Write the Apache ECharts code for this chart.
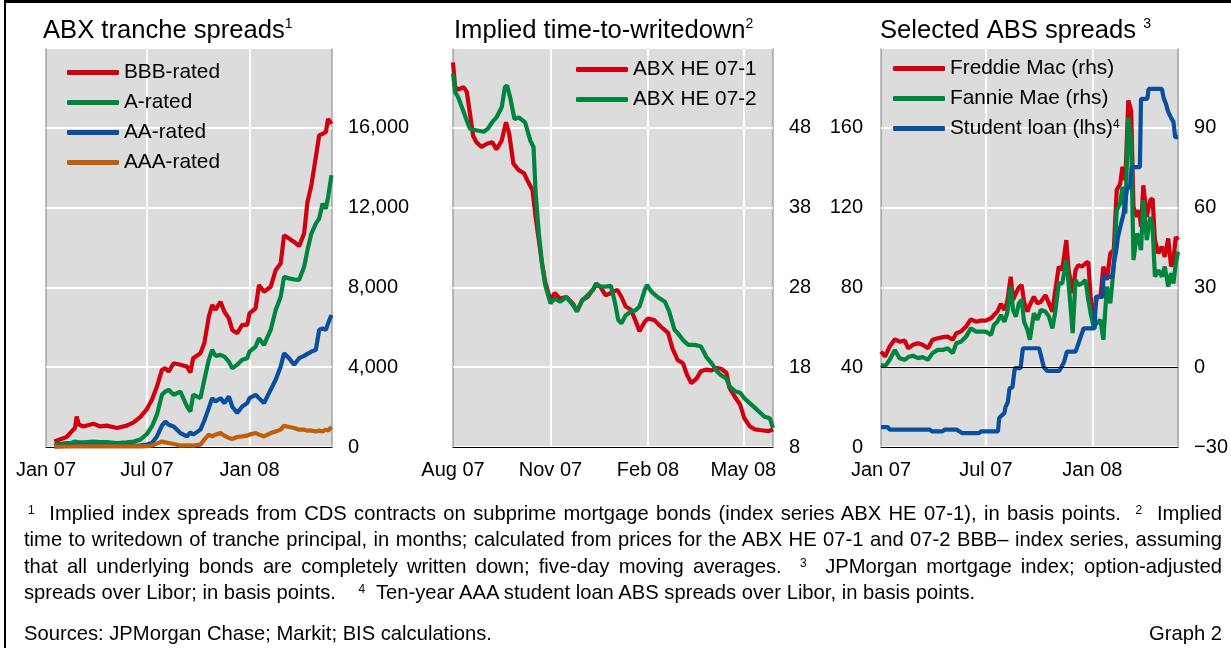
<!DOCTYPE html>
<html>
<head>
<meta charset="utf-8">
<script src="https://cdn.jsdelivr.net/npm/echarts@6/dist/echarts.min.js"></script>
<style>
  html, body { margin: 0; padding: 0; background: #fff; }
  #wrap { position: relative; width: 1231px; height: 648px; overflow: hidden; }
  #chart { position: absolute; left: 0; top: 0; width: 1231px; height: 648px; }
  #frame { position: absolute; left: 4px; top: 0; width: 1400px; height: 800px;
           border-top: 3px solid #000; border-left: 2px solid #000; }
  .txt { position: absolute; left: 24px; width: 1198px; color: #000;
         font-family: 'Liberation Sans', Arial, Helvetica, sans-serif; font-size: 20.2px; }
  #notes { top: 500px; line-height: 26.3px; }
  #notes .j { text-align: justify; text-align-last: justify; white-space: nowrap; }
  #notes sup { font-size: 12px; vertical-align: 6px; line-height: 0; }
  #src { top: 620px; line-height: 26px; }
</style>
</head>
<body>
<div id="wrap">
  <div id="chart"></div>
  <div id="frame"></div>
  <div id="notes" class="txt">
    <div class="j" style="padding-left:4px"><sup>1</sup>&nbsp; Implied index spreads from CDS contracts on subprime mortgage bonds (index series ABX HE 07-1), in basis points. &nbsp;<sup>2</sup>&nbsp; Implied</div>
    <div class="j">time to writedown of tranche principal, in months; calculated from prices for the ABX HE 07-1 and 07-2 BBB– index series, assuming</div>
    <div class="j">that all underlying bonds are completely written down; five-day moving averages. &nbsp;<sup>3</sup>&nbsp; JPMorgan mortgage index; option-adjusted</div>
    <div>spreads over Libor; in basis points. &nbsp;&nbsp;&nbsp;<sup>4</sup>&nbsp; Ten-year AAA student loan ABS spreads over Libor, in basis points.</div>
  </div>
  <div id="src" class="txt">Sources: JPMorgan Chase; Markit; BIS calculations.<span style="float:right">Graph 2</span></div>
</div>

<script>
// ---- panel 1: ABX tranche spreads (basis points)
const abxDates = ['2007-01-16','2007-02-07','2007-02-16','2007-02-22','2007-02-25','2007-03-01','2007-03-09','2007-03-27','2007-04-08','2007-04-20',
  '2007-05-08','2007-05-26','2007-06-07','2007-06-19','2007-07-01','2007-07-10','2007-07-19','2007-07-28','2007-08-03','2007-08-09',
  '2007-08-18','2007-08-30','2007-09-11','2007-09-17','2007-09-22','2007-10-05','2007-10-12','2007-10-20','2007-10-26','2007-11-01',
  '2007-11-10','2007-11-17','2007-11-25','2007-12-01','2007-12-10','2007-12-19','2007-12-28','2008-01-01','2008-01-12','2008-01-18',
  '2008-01-27','2008-02-08','2008-02-17','2008-02-26','2008-03-03','2008-03-12','2008-03-21','2008-03-30','2008-04-08','2008-04-14',
  '2008-04-21','2008-04-29','2008-05-05','2008-05-11','2008-05-17','2008-05-21','2008-05-27'];
const bbbRated = [280, 500, 780, 950, 1530, 1120, 1030, 1170, 1030, 1070, 950, 1070, 1230, 1500, 1900, 2370, 3030, 3870, 3950, 3780,
  4200, 4120, 4030, 3730, 4450, 4700, 5200, 6530, 7120, 6870, 7280, 6780, 6450, 5870, 5700, 6120, 6120, 6700, 6950, 8120,
  7780, 8030, 8870, 9200, 10620, 10450, 10280, 10070, 10700, 12280, 13120, 14530, 15620, 15700, 15780, 16450, 16200];
const aRated = [120, 200, 200, 280, 330, 230, 230, 270, 250, 250, 200, 230, 270, 370, 650, 1030, 1620, 2620, 2780, 2870,
  2620, 2780, 2030, 1780, 2620, 2450, 3370, 4370, 4870, 4570, 4620, 4530, 4280, 3950, 4120, 4370, 4450, 4780, 5030, 5450,
  5120, 5870, 6870, 7530, 8530, 8450, 8400, 8370, 9030, 9870, 10700, 11200, 11450, 12200, 11950, 12530, 13620];
const aaRated = [30, 60, 60, 70, 80, 70, 70, 70, 70, 65, 60, 60, 70, 80, 120, 200, 530, 1070, 1280, 1120,
  1030, 700, 530, 730, 620, 870, 1330, 1950, 2450, 2280, 2450, 2200, 2530, 2030, 1700, 2030, 2200, 2450, 2620, 2450,
  2200, 2870, 3370, 4030, 4700, 4450, 4120, 4450, 4570, 4670, 4780, 4870, 5870, 5950, 5870, 6200, 6620];
const aaaRated = [20, 25, 25, 30, 30, 30, 30, 30, 30, 30, 30, 30, 30, 33, 40, 80, 170, 280, 230, 200,
  150, 70, 80, 80, 70, 120, 370, 620, 530, 620, 700, 570, 450, 400, 500, 530, 570, 620, 700, 620,
  530, 700, 780, 870, 1070, 1000, 950, 870, 870, 820, 830, 780, 820, 780, 870, 830, 1000];

// ---- panel 2: implied time-to-writedown (months)
const he071Dates = ['2007-08-01','2007-08-03','2007-08-06','2007-08-11','2007-08-14','2007-08-17','2007-08-20','2007-08-23','2007-08-28',
  '2007-09-02','2007-09-07','2007-09-11','2007-09-16','2007-09-20','2007-09-23','2007-09-27',
  '2007-10-02','2007-10-07','2007-10-11','2007-10-15','2007-10-18','2007-10-21','2007-10-24','2007-10-27',
  '2007-11-01','2007-11-05','2007-11-10','2007-11-16','2007-11-22','2007-11-26',
  '2007-12-01','2007-12-06','2007-12-11','2007-12-14','2007-12-18','2007-12-23','2007-12-28',
  '2008-01-03','2008-01-07','2008-01-11','2008-01-16','2008-01-20','2008-01-24','2008-01-29',
  '2008-02-01','2008-02-07','2008-02-13','2008-02-20','2008-02-24','2008-02-29',
  '2008-03-05','2008-03-09','2008-03-13','2008-03-18','2008-03-22','2008-03-27',
  '2008-04-01','2008-04-06','2008-04-10','2008-04-15','2008-04-18','2008-04-23','2008-04-28',
  '2008-05-02','2008-05-07','2008-05-12','2008-05-18','2008-05-25','2008-05-29'];
const he071 = [56.2, 53.1, 52.8, 53.1, 52.5, 49.8, 47.0, 46.2, 45.6,
  46.0, 46.2, 45.3, 46.4, 48.7, 47.3, 43.5,
  42.7, 42.3, 41.2, 40.2, 36.8, 33.9, 31.0, 28.7,
  26.4, 27.3, 26.6, 26.8, 26.0, 25.0,
  26.4, 26.8, 27.7, 28.3, 28.1, 27.0, 27.3,
  27.7, 26.8, 25.6, 25.2, 23.9, 22.5, 23.7,
  24.1, 23.9, 23.1, 22.3, 20.4, 18.9,
  18.5, 17.0, 16.0, 16.6, 17.5, 17.7,
  17.6, 17.9, 17.8, 17.3, 15.4, 14.3, 13.3,
  11.6, 10.6, 10.2, 10.1, 10.0, 10.2];
const he072Dates = ['2007-08-01','2007-08-03','2007-08-06','2007-08-11','2007-08-14','2007-08-17','2007-08-23','2007-08-30',
  '2007-09-03','2007-09-07','2007-09-11','2007-09-16','2007-09-19','2007-09-21','2007-09-24','2007-09-28',
  '2007-10-02','2007-10-08','2007-10-13','2007-10-16','2007-10-18','2007-10-21','2007-10-24','2007-10-27',
  '2007-11-01','2007-11-05','2007-11-10','2007-11-16','2007-11-22','2007-11-26',
  '2007-12-01','2007-12-06','2007-12-11','2007-12-14','2007-12-18','2007-12-23','2007-12-28',
  '2008-01-01','2008-01-04','2008-01-07','2008-01-11','2008-01-16','2008-01-20','2008-01-24','2008-01-29','2008-01-31',
  '2008-02-04','2008-02-10','2008-02-17','2008-02-21','2008-02-26','2008-02-29',
  '2008-03-05','2008-03-10','2008-03-16','2008-03-22','2008-03-27',
  '2008-04-01','2008-04-06','2008-04-10','2008-04-15','2008-04-18','2008-04-23','2008-04-28',
  '2008-05-02','2008-05-07','2008-05-12','2008-05-17','2008-05-21','2008-05-26','2008-05-29'];
const he072 = [54.8, 52.5, 51.8, 50.0, 48.9, 47.9, 47.7, 47.5,
  47.9, 48.7, 49.3, 50.6, 53.1, 53.3, 51.8, 49.1,
  49.3, 48.7, 46.4, 45.6, 39.8, 34.8, 31.0, 28.3,
  26.0, 26.6, 26.2, 26.8, 25.8, 25.0,
  26.4, 27.0, 27.7, 28.5, 28.1, 28.1, 28.2,
  26.0, 23.9, 23.5, 24.5, 25.0, 25.1, 25.6, 27.7, 28.3,
  27.5, 26.8, 26.2, 25.0, 22.7, 22.3,
  21.4, 20.8, 20.8, 20.6, 19.3,
  18.5, 17.5, 17.0, 16.6, 15.6, 15.0, 14.8,
  14.1, 13.5, 12.9, 12.3, 11.8, 11.6, 10.4];

// ---- panel 3: selected ABS spreads (basis points)
const agencyDates = ['2007-01-01','2007-01-08','2007-01-16','2007-01-25','2007-02-02','2007-02-11','2007-02-17','2007-02-25',
  '2007-03-06','2007-03-14','2007-03-23','2007-03-31','2007-04-09','2007-04-18','2007-04-26',
  '2007-05-05','2007-05-11','2007-05-19','2007-05-28','2007-06-05','2007-06-14','2007-06-23',
  '2007-07-01','2007-07-10','2007-07-15','2007-07-21','2007-07-27',
  '2007-08-02','2007-08-07','2007-08-13','2007-08-17','2007-08-22','2007-08-27',
  '2007-09-01','2007-09-05','2007-09-11','2007-09-15','2007-09-22','2007-09-28',
  '2007-10-04','2007-10-12','2007-10-18','2007-10-24','2007-10-29',
  '2007-11-04','2007-11-10','2007-11-17','2007-11-21','2007-11-28',
  '2007-12-03','2007-12-08','2007-12-14','2007-12-20','2007-12-25','2007-12-29',
  '2008-01-03','2008-01-09','2008-01-15','2008-01-20','2008-01-26',
  '2008-02-01','2008-02-07','2008-02-12','2008-02-18','2008-02-22','2008-02-27',
  '2008-03-03','2008-03-08','2008-03-12','2008-03-18','2008-03-22','2008-03-25','2008-03-29',
  '2008-04-04','2008-04-10','2008-04-14','2008-04-18','2008-04-24','2008-04-30',
  '2008-05-05','2008-05-11','2008-05-16','2008-05-20','2008-05-24','2008-05-28'];
const freddieMac = [5.9, 4.0, 7.8, 10.5, 9.6, 10.0, 7.1, 8.4, 9.0, 8.4,
  7.1, 10.3, 10.9, 11.3, 11.5, 10.3, 12.8, 13.4, 15.3, 18.0,
  17.1, 17.5, 17.5, 18.4, 19.6, 20.9, 23.8, 21.5, 24.6, 34.0,
  25.3, 27.8, 30.0, 30.9, 24.6, 20.9, 23.4, 26.5, 24.0, 24.6,
  27.1, 24.0, 20.9, 29.0, 37.8, 36.5, 47.8, 36.5, 27.8, 36.5,
  38.4, 37.8, 39.0, 39.6, 26.5, 17.8, 26.5, 26.5, 37.8, 32.8,
  42.8, 44.0, 66.5, 69.0, 75.3, 70.3, 100.3, 96.5, 60.3, 56.5,
  59.0, 52.8, 68.4, 56.5, 62.8, 63.4, 47.8, 42.8, 45.3, 41.5,
  48.4, 37.8, 40.3, 49.0, 47.8];
const fannieMae = [0.9, 0.3, 2.8, 6.5, 3.4, 2.8, 3.8, 4.3, 3.4, 3.8,
  2.8, 5.3, 6.5, 6.5, 7.1, 5.3, 9.0, 9.6, 11.5, 14.6,
  13.4, 13.4, 13.4, 12.1, 15.9, 17.1, 19.6, 17.1, 20.3, 30.3,
  21.5, 19.0, 24.0, 25.3, 17.1, 14.0, 10.3, 20.3, 17.8, 21.5,
  20.9, 19.0, 14.6, 20.9, 31.5, 31.5, 40.3, 31.5, 12.8, 32.8,
  30.9, 31.5, 32.8, 25.3, 20.3, 15.3, 16.5, 17.8, 10.3, 30.3,
  24.0, 37.8, 59.0, 61.5, 67.8, 57.8, 94.0, 85.3, 40.3, 50.3,
  47.8, 44.0, 62.8, 47.8, 56.5, 52.8, 34.0, 36.5, 34.0, 37.8,
  30.3, 35.3, 31.5, 39.0, 43.4];
const studentDates = ['2007-01-01','2007-01-13','2007-01-16','2007-03-26','2007-03-30','2007-04-17','2007-04-21','2007-05-12','2007-05-21',
  '2007-06-19','2007-06-23','2007-07-22','2007-07-24','2007-08-02','2007-08-04','2007-08-08','2007-08-11','2007-08-16','2007-08-20','2007-08-30',
  '2007-09-03','2007-10-01','2007-10-05','2007-10-09','2007-10-15','2007-11-05','2007-11-13','2007-11-18',
  '2007-12-03','2007-12-06','2007-12-11','2007-12-17','2008-01-05','2008-01-07','2008-01-19','2008-01-20',
  '2008-02-04','2008-02-07','2008-02-11','2008-02-14','2008-02-18','2008-02-24','2008-03-01','2008-03-06','2008-03-09','2008-03-23','2008-03-25',
  '2008-04-05','2008-04-07','2008-04-30','2008-05-03','2008-05-07','2008-05-11','2008-05-16','2008-05-20','2008-05-23','2008-05-28'];
const studentLoan = [10, 10, 8.7, 8.7, 7.8, 7.8, 8.7, 8.7, 7,
  7, 7.8, 7.8, 14.5, 17, 20, 22.5, 29.5, 30, 39.5, 39.5,
  49.5, 49.5, 45, 40, 38.2, 38.2, 42.5, 47.8,
  47.8, 50.3, 54.5, 59.5, 59.5, 75.3, 75.3, 85.3,
  85.3, 92, 98, 105, 110, 117, 130, 130, 140.3, 140.3, 174.5,
  174.5, 179.5, 179.5, 175, 172, 168, 165, 163, 155.3, 155.3];

// ---- axis ticks
const fullTicks = ['2007-01-01', '2007-07-01', '2008-01-01'];
const fullTickLabels = ['Jan 07', 'Jul 07', 'Jan 08'];
const wdTicks = ['2007-08-01', '2007-11-01', '2008-02-01', '2008-05-01'];
const wdTickLabels = ['Aug 07', 'Nov 07', 'Feb 08', 'May 08'];

const FONT = "'Liberation Sans', Arial, Helvetica, sans-serif";
const RED = '#d2000f', GREEN = '#00853e', BLUE = '#0a4f9e', ORANGE = '#be5f0e';

// every calendar day of an axis, so that dates sit at their true positions
function dayRange(start, end) {
  var out = [];
  var d = new Date(start + 'T00:00:00Z');
  var e = new Date(end + 'T00:00:00Z');
  while (d <= e) {
    out.push(d.toISOString().slice(0, 10));
    d.setUTCDate(d.getUTCDate() + 1);
  }
  return out;
}

function pairs(dates, vals) {
  return dates.map(function (d, i) { return [d, vals[i]]; });
}

function dateAxis(gridIndex, start, end, ticks, labels) {
  return {
    type: 'category',
    gridIndex: gridIndex,
    data: dayRange(start, end),
    boundaryGap: false,
    axisLine: { show: true, onZero: false, lineStyle: { color: '#000', width: 1 } },
    axisTick: { show: false },
    axisLabel: {
      interval: function (i, v) { return ticks.indexOf(v) >= 0; },
      formatter: function (v) { return labels[ticks.indexOf(v)]; },
      fontSize: 20, color: '#000', fontFamily: FONT, margin: 13
    },
    splitLine: {
      show: true,
      interval: function (i, v) { return i > 0 && ticks.indexOf(v) >= 0; },
      lineStyle: { color: '#fff', width: 2 }
    }
  };
}

function valueAxis(gridIndex, position, min, max, step, fmt, grid) {
  return {
    type: 'value',
    gridIndex: gridIndex,
    position: position,
    min: min, max: max, interval: step,
    axisLine: { show: false },
    axisTick: { show: false },
    axisLabel: {
      showMaxLabel: false,
      fontSize: 20, color: '#000', fontFamily: FONT,
      margin: position === 'left' ? 18 : 16,
      formatter: fmt
    },
    splitLine: { show: grid, lineStyle: { color: '#fff', width: 2 } }
  };
}

function lineSeries(name, x, y, data, color) {
  return {
    name: name, type: 'line', xAxisIndex: x, yAxisIndex: y,
    data: data, showSymbol: false, symbol: 'none',
    lineStyle: { color: color, width: 4.2 },
    itemStyle: { color: color },
    animation: false
  };
}

function legend(left, top, names) {
  return {
    orient: 'vertical', left: left, top: top, padding: 0,
    itemWidth: 52, itemHeight: 5, itemGap: 9, icon: 'roundRect',
    selectedMode: false,
    data: names,
    textStyle: {
      fontSize: 20.8, lineHeight: 20, color: '#000', fontFamily: FONT,
      rich: { sup: { fontSize: 12, lineHeight: 12, verticalAlign: 'top', color: '#000', fontFamily: FONT } }
    },
    formatter: function (n) { return n === 'Student loan (lhs)' ? n + '{sup|4}' : n; }
  };
}

function title(text, left) {
  return {
    text: text, left: left, top: 17, padding: 0,
    textStyle: {
      fontSize: 25.6, lineHeight: 28, fontWeight: 'normal', color: '#000', fontFamily: FONT,
      rich: { sup: { fontSize: 14, lineHeight: 14, verticalAlign: 'top', color: '#000', fontFamily: FONT } }
    }
  };
}

var thousands = function (v) { return v.toLocaleString('en-US'); };
var signed = function (v) { return v < 0 ? '\u2212' + Math.abs(v) : String(v); };

var chart = echarts.init(document.getElementById('chart'));
var gridStyle = { show: true, backgroundColor: '#dcdcdc', borderColor: '#7f7f7f', borderWidth: 1 };

var option = {
  animation: false,
  title: [
    title('ABX tranche spreads{sup|1}', 43),
    title('Implied time-to-writedown{sup|2}', 454),
    title('Selected ABS spreads {sup|3}', 880)
  ],
  legend: [
    legend(67, 62, ['BBB-rated', 'A-rated', 'AA-rated', 'AAA-rated']),
    legend(576, 59, ['ABX HE 07-1', 'ABX HE 07-2']),
    legend(893, 58, ['Freddie Mac (rhs)', 'Fannie Mae (rhs)', 'Student loan (lhs)'])
  ],
  grid: [
    Object.assign({ left: 46, top: 48, width: 286, height: 399 }, gridStyle),
    Object.assign({ left: 453, top: 48, width: 320, height: 399 }, gridStyle),
    Object.assign({ left: 881, top: 48, width: 299, height: 399 }, gridStyle)
  ],
  xAxis: [
    dateAxis(0, '2007-01-01', '2008-05-28', fullTicks, fullTickLabels),
    dateAxis(1, '2007-08-01', '2008-05-29', wdTicks, wdTickLabels),
    dateAxis(2, '2007-01-01', '2008-05-28', fullTicks, fullTickLabels)
  ],
  yAxis: [
    valueAxis(0, 'right', 0, 20000, 4000, thousands, true),
    valueAxis(1, 'right', 8, 58, 10, String, true),
    valueAxis(2, 'left', 0, 200, 40, String, true),
    valueAxis(2, 'right', -30, 120, 30, signed, false)
  ],
  series: [
    lineSeries('BBB-rated', 0, 0, pairs(abxDates, bbbRated), RED),
    lineSeries('A-rated', 0, 0, pairs(abxDates, aRated), GREEN),
    lineSeries('AA-rated', 0, 0, pairs(abxDates, aaRated), BLUE),
    lineSeries('AAA-rated', 0, 0, pairs(abxDates, aaaRated), ORANGE),
    lineSeries('ABX HE 07-1', 1, 1, pairs(he071Dates, he071), RED),
    lineSeries('ABX HE 07-2', 1, 1, pairs(he072Dates, he072), GREEN),
    Object.assign(lineSeries('Freddie Mac (rhs)', 2, 3, pairs(agencyDates, freddieMac), RED), {
      markLine: {
        silent: true, symbol: 'none', label: { show: false }, animation: false,
        lineStyle: { color: '#000', width: 1, type: 'solid' },
        data: [{ yAxis: 0 }]
      }
    }),
    lineSeries('Fannie Mae (rhs)', 2, 3, pairs(agencyDates, fannieMae), GREEN),
    lineSeries('Student loan (lhs)', 2, 2, pairs(studentDates, studentLoan), BLUE)
  ]
};

chart.setOption(option);
</script>
</body>
</html>
